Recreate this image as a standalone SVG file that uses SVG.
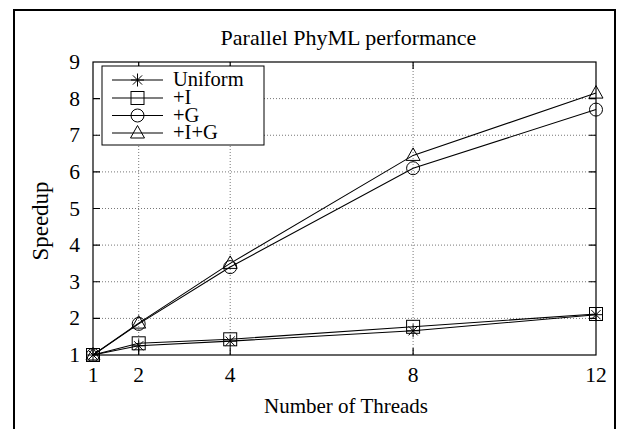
<svg xmlns="http://www.w3.org/2000/svg" width="623" height="429" viewBox="0 0 623 429">
  <style>
    text { font-family: "Liberation Serif", "Times New Roman", serif; fill: #000; }
    .tick { font-size: 21.5px; }
    .lab { font-size: 21px; }
    .key { font-size: 20.5px; }
    .grid { stroke: #777; stroke-width: 1; stroke-dasharray: 1 2; fill: none; }
    .axis { stroke: #000; stroke-width: 1.2; fill: none; }
    .series { stroke: #000; stroke-width: 1.1; fill: none; }
    .mk { stroke: #000; stroke-width: 1; fill: none; }
  </style>
  <defs>
    <g id="m-star" class="mk">
      <path d="M-6.5 0H6.5M0 -6.5V6.5M-4.6 -4.6L4.6 4.6M-4.6 4.6L4.6 -4.6"/>
    </g>
    <g id="m-square" class="mk">
      <rect x="-6.5" y="-6.5" width="13" height="13"/>
    </g>
    <g id="m-circle" class="mk">
      <circle r="6.5"/>
    </g>
    <g id="m-tri" class="mk">
      <path d="M0 -7.5L7 5H-7Z"/>
    </g>
  </defs>

  <rect width="623" height="429" fill="#fff"/>
  <!-- outer frame -->
  <rect x="14" y="10" width="601" height="430" fill="none" stroke="#000" stroke-width="2"/>

  <text x="348.5" y="45" font-size="22" text-anchor="middle">Parallel PhyML performance</text>

  <!-- grid -->
  <g id="grid" class="grid">
    <path d="M93 318.4H596M93 281.75H596M93 245.1H596M93 208.5H596M93 171.9H596M93 135.25H596M93 98.6H596"/>
    <path d="M138.7 62V355M230.2 62V355M413.1 62V355"/>
  </g>

  <!-- axes and ticks -->
  <g id="axes" class="axis">
    <rect x="93" y="62" width="503" height="293"/>
    <path d="M93 318.4h7M93 281.75h7M93 245.1h7M93 208.5h7M93 171.9h7M93 135.25h7M93 98.6h7"/>
    <path d="M596 318.4h-7M596 281.75h-7M596 245.1h-7M596 208.5h-7M596 171.9h-7M596 135.25h-7M596 98.6h-7"/>
    <path d="M138.7 355v-7M230.2 355v-7M413.1 355v-7M138.7 62v7M230.2 62v7M413.1 62v7"/>
  </g>

  <g id="yticks" class="tick" text-anchor="end">
    <text x="80" y="362">1</text>
    <text x="80" y="325.4">2</text>
    <text x="80" y="288.75">3</text>
    <text x="80" y="252.1">4</text>
    <text x="80" y="215.5">5</text>
    <text x="80" y="178.9">6</text>
    <text x="80" y="142.25">7</text>
    <text x="80" y="105.6">8</text>
    <text x="80" y="69">9</text>
  </g>
  <g id="xticks" class="tick" text-anchor="middle">
    <text x="93" y="381.5">1</text>
    <text x="138.7" y="381.5">2</text>
    <text x="230.2" y="381.5">4</text>
    <text x="413.1" y="381.5">8</text>
    <text x="596" y="381.5">12</text>
  </g>

  <text class="lab" x="346" y="413" text-anchor="middle">Number of Threads</text>
  <text transform="translate(48 221) rotate(-90)" font-size="23" text-anchor="middle">Speedup</text>

  <!-- data series -->
  <g id="connectors">
    <polyline id="s-uniform" class="series" points="93,355 138.7,345.8 230.2,341.1 413.1,330.8 596,314.7"/>
    <polyline id="s-i" class="series" points="93,355 138.7,343.3 230.2,339.3 413.1,326.8 596,314"/>
    <polyline id="s-g" class="series" points="93,355 138.7,323.9 230.2,267.1 413.1,168.2 596,109.6"/>
    <polyline id="s-ig" class="series" points="93,355 138.7,323.1 230.2,263.4 413.1,155.4 596,93.1"/>
  </g>

  <g id="pts-uniform">
    <use href="#m-star" x="93" y="355"/>
    <use href="#m-star" x="138.7" y="345.8"/>
    <use href="#m-star" x="230.2" y="341.1"/>
    <use href="#m-star" x="413.1" y="330.8"/>
    <use href="#m-star" x="596" y="314.7"/>
  </g>
  <g id="pts-i">
    <use href="#m-square" x="93" y="355"/>
    <use href="#m-square" x="138.7" y="343.3"/>
    <use href="#m-square" x="230.2" y="339.3"/>
    <use href="#m-square" x="413.1" y="326.8"/>
    <use href="#m-square" x="596" y="314"/>
  </g>
  <g id="pts-g">
    <use href="#m-circle" x="93" y="355"/>
    <use href="#m-circle" x="138.7" y="323.9"/>
    <use href="#m-circle" x="230.2" y="267.1"/>
    <use href="#m-circle" x="413.1" y="168.2"/>
    <use href="#m-circle" x="596" y="109.6"/>
  </g>
  <g id="pts-ig">
    <use href="#m-tri" x="93" y="355"/>
    <use href="#m-tri" x="138.7" y="323.1"/>
    <use href="#m-tri" x="230.2" y="263.4"/>
    <use href="#m-tri" x="413.1" y="155.4"/>
    <use href="#m-tri" x="596" y="93.1"/>
  </g>

  <!-- key -->
  <g id="legend">
    <rect x="102" y="66" width="162" height="79" fill="#fff" stroke="#000" stroke-width="1"/>
    <g class="series">
      <path d="M112 80H163M112 98H163M112 115.5H163M112 133H163"/>
    </g>
    <use href="#m-star" x="137.5" y="80"/>
    <use href="#m-square" x="137.5" y="98"/>
    <use href="#m-circle" x="137.5" y="115.5"/>
    <use href="#m-tri" x="137.5" y="133"/>
    <g class="key">
      <text x="173" y="86">Uniform</text>
      <text x="173" y="104">+I</text>
      <text x="173" y="121.5">+G</text>
      <text x="173" y="139">+I+G</text>
    </g>
  </g>
</svg>
